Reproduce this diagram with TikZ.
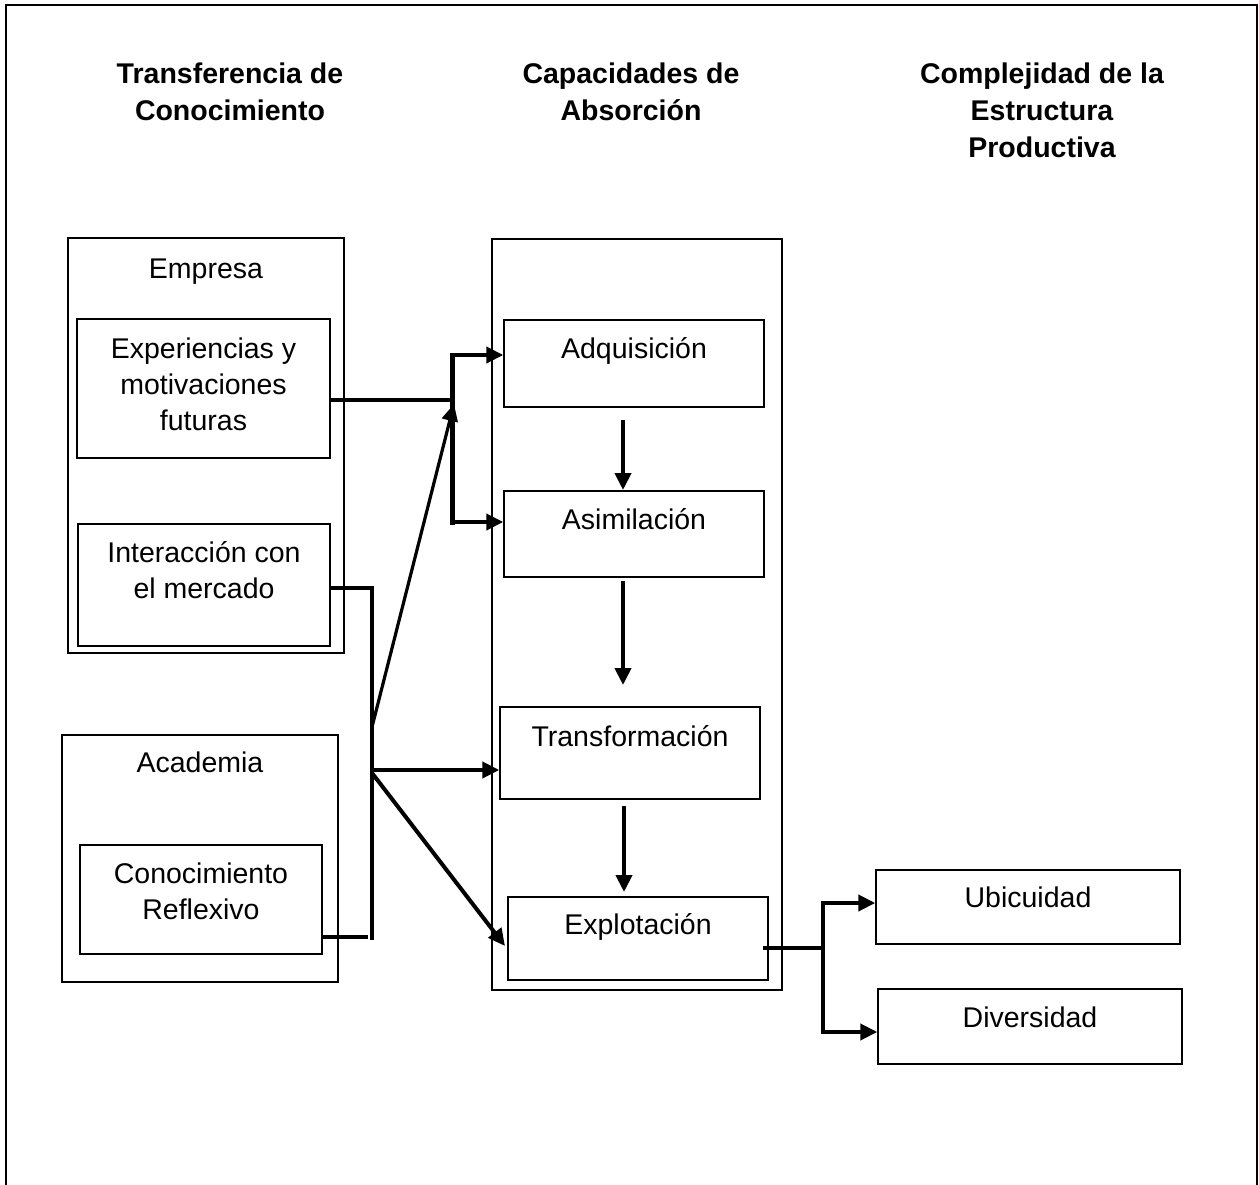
\documentclass[tikz,border=0pt]{standalone}
\usepackage{fontspec}
\setmainfont{Liberation Sans}
\usetikzlibrary{arrows.meta}
\newcommand{\firstline}{\rule{0pt}{25pt}}
\begin{document}
\begin{tikzpicture}[x=1pt,y=-1pt,
  box/.style={draw,line width=1.4pt,inner sep=0pt},
  txt/.style={anchor=north,inner sep=0pt,yshift=25pt,align=center,
    font=\fontsize{28.5}{36}\selectfont,execute at begin node=\firstline},
  head/.style={txt,font=\bfseries\fontsize{28.5}{37}\selectfont},
  conn/.style={line width=4pt},
  bus/.style={line width=5pt,line cap=rect},
  arr/.style={conn,-{Triangle[length=17pt,width=16pt]}},
  thinarr/.style={line width=3.2pt,-{Triangle[length=17pt,width=16pt]}}]
\useasboundingbox (0,0) rectangle (1259,1185);

% frame, open at the bottom
\draw[line width=2pt] (6,1185) -- (6,5) -- (1257,5) -- (1257,1185);

% column headings
\node[head] (h1) at (230,88) {Transferencia de\\Conocimiento};
\node[head] (h2) at (631,88) {Capacidades de\\Absorción};
\node[head] (h3) at (1042,88) {Complejidad de la\\Estructura\\Productiva};

% knowledge transfer side
\node[box,minimum width=276pt,minimum height=415pt] (empresa) at (206,445.5) {};
\node[txt] (tempresa) at (206,278) {Empresa};
\node[box,minimum width=253pt,minimum height=139pt] (exper) at (203.5,388.5) {};
\node[txt] (texper) at (203.5,363) {Experiencias y\\motivaciones\\futuras};
\node[box,minimum width=252pt,minimum height=122pt] (inter) at (204,585) {};
\node[txt] (tinter) at (204,566) {Interacción con\\el mercado};

\node[box,minimum width=276pt,minimum height=247pt] (academia) at (200,858.5) {};
\node[txt] (tacademia) at (200,772) {Academia};
\node[box,minimum width=242pt,minimum height=109pt] (conoc) at (201,899.5) {};
\node[txt] (tconoc) at (201,888) {Conocimiento\\Reflexivo};

% absorptive capacities
\node[box,minimum width=290pt,minimum height=751pt] (capac) at (637,614.5) {};
\node[box,minimum width=260pt,minimum height=87pt] (adq) at (634,363.5) {};
\node[txt] (tadq) at (634,358) {Adquisición};
\node[box,minimum width=260pt,minimum height=86pt] (asim) at (634,534) {};
\node[txt] (tasim) at (634,529) {Asimilación};
\node[box,minimum width=260pt,minimum height=92pt] (transf) at (630,753) {};
\node[txt] (ttransf) at (630,746) {Transformación};
\node[box,minimum width=260pt,minimum height=83pt] (explot) at (638,938.5) {};
\node[txt] (texplot) at (638,934) {Explotación};

% productive structure
\node[box,minimum width=304pt,minimum height=74pt] (ubic) at (1028,907) {};
\node[txt] (tubic) at (1028,907) {Ubicuidad};
\node[box,minimum width=304pt,minimum height=75pt] (divers) at (1030,1026.5) {};
\node[txt] (tdivers) at (1030,1027) {Diversidad};

% junction points of the connectors
\coordinate (j1) at (452,400);
\coordinate (b1) at (452,355);
\coordinate (b2) at (452,522);
\coordinate (c1) at (372,588);
\coordinate (c2) at (372,940);
\coordinate (k2) at (368,937);
\coordinate (d1) at (372,727);
\coordinate (d2) at (454,404);
\coordinate (t1) at (372,770);
\coordinate (x1) at (372,773);
\coordinate (x2) at (505,946);
\coordinate (e0) at (823,948);
\coordinate (e1) at (823,903);
\coordinate (e2) at (823,1032);
\coordinate (v1a) at (623,420);
\coordinate (v1b) at (623,490);
\coordinate (v2a) at (623,581);
\coordinate (v2b) at (623,685);
\coordinate (v3a) at (624,806);
\coordinate (v3b) at (624,892);

% enterprise experiences into acquisition and assimilation
\draw[conn] (exper.east |- j1) -- (j1);
\draw[bus] (b1) -- (b2);
\draw[arr] (b1) -- (adq.west |- b1);
\draw[arr] (b2) -- (asim.west |- b2);

% market interaction and reflexive knowledge
\draw[conn] (inter.east |- c1) -- (c1) -- (c2);
\draw[conn] (conoc.east |- k2) -- (k2);
\draw[thinarr] (d1) -- (d2);
\draw[arr] (t1) -- (transf.west |- t1);
\draw[arr] (x1) -- (x2);

% sequence of capacities
\draw[arr] (v1a) -- (v1b);
\draw[arr] (v2a) -- (v2b);
\draw[arr] (v3a) -- (v3b);

% exploitation into ubiquity and diversity
\draw[conn,line width=4.5pt] (explot.east |- e0) ++(-6,0) -- (e0);
\draw[bus,line width=4.5pt] (e1) -- (e2);
\draw[arr] (e1) -- (ubic.west |- e1);
\draw[arr] (e2) -- (divers.west |- e2);
\end{tikzpicture}
\end{document}
